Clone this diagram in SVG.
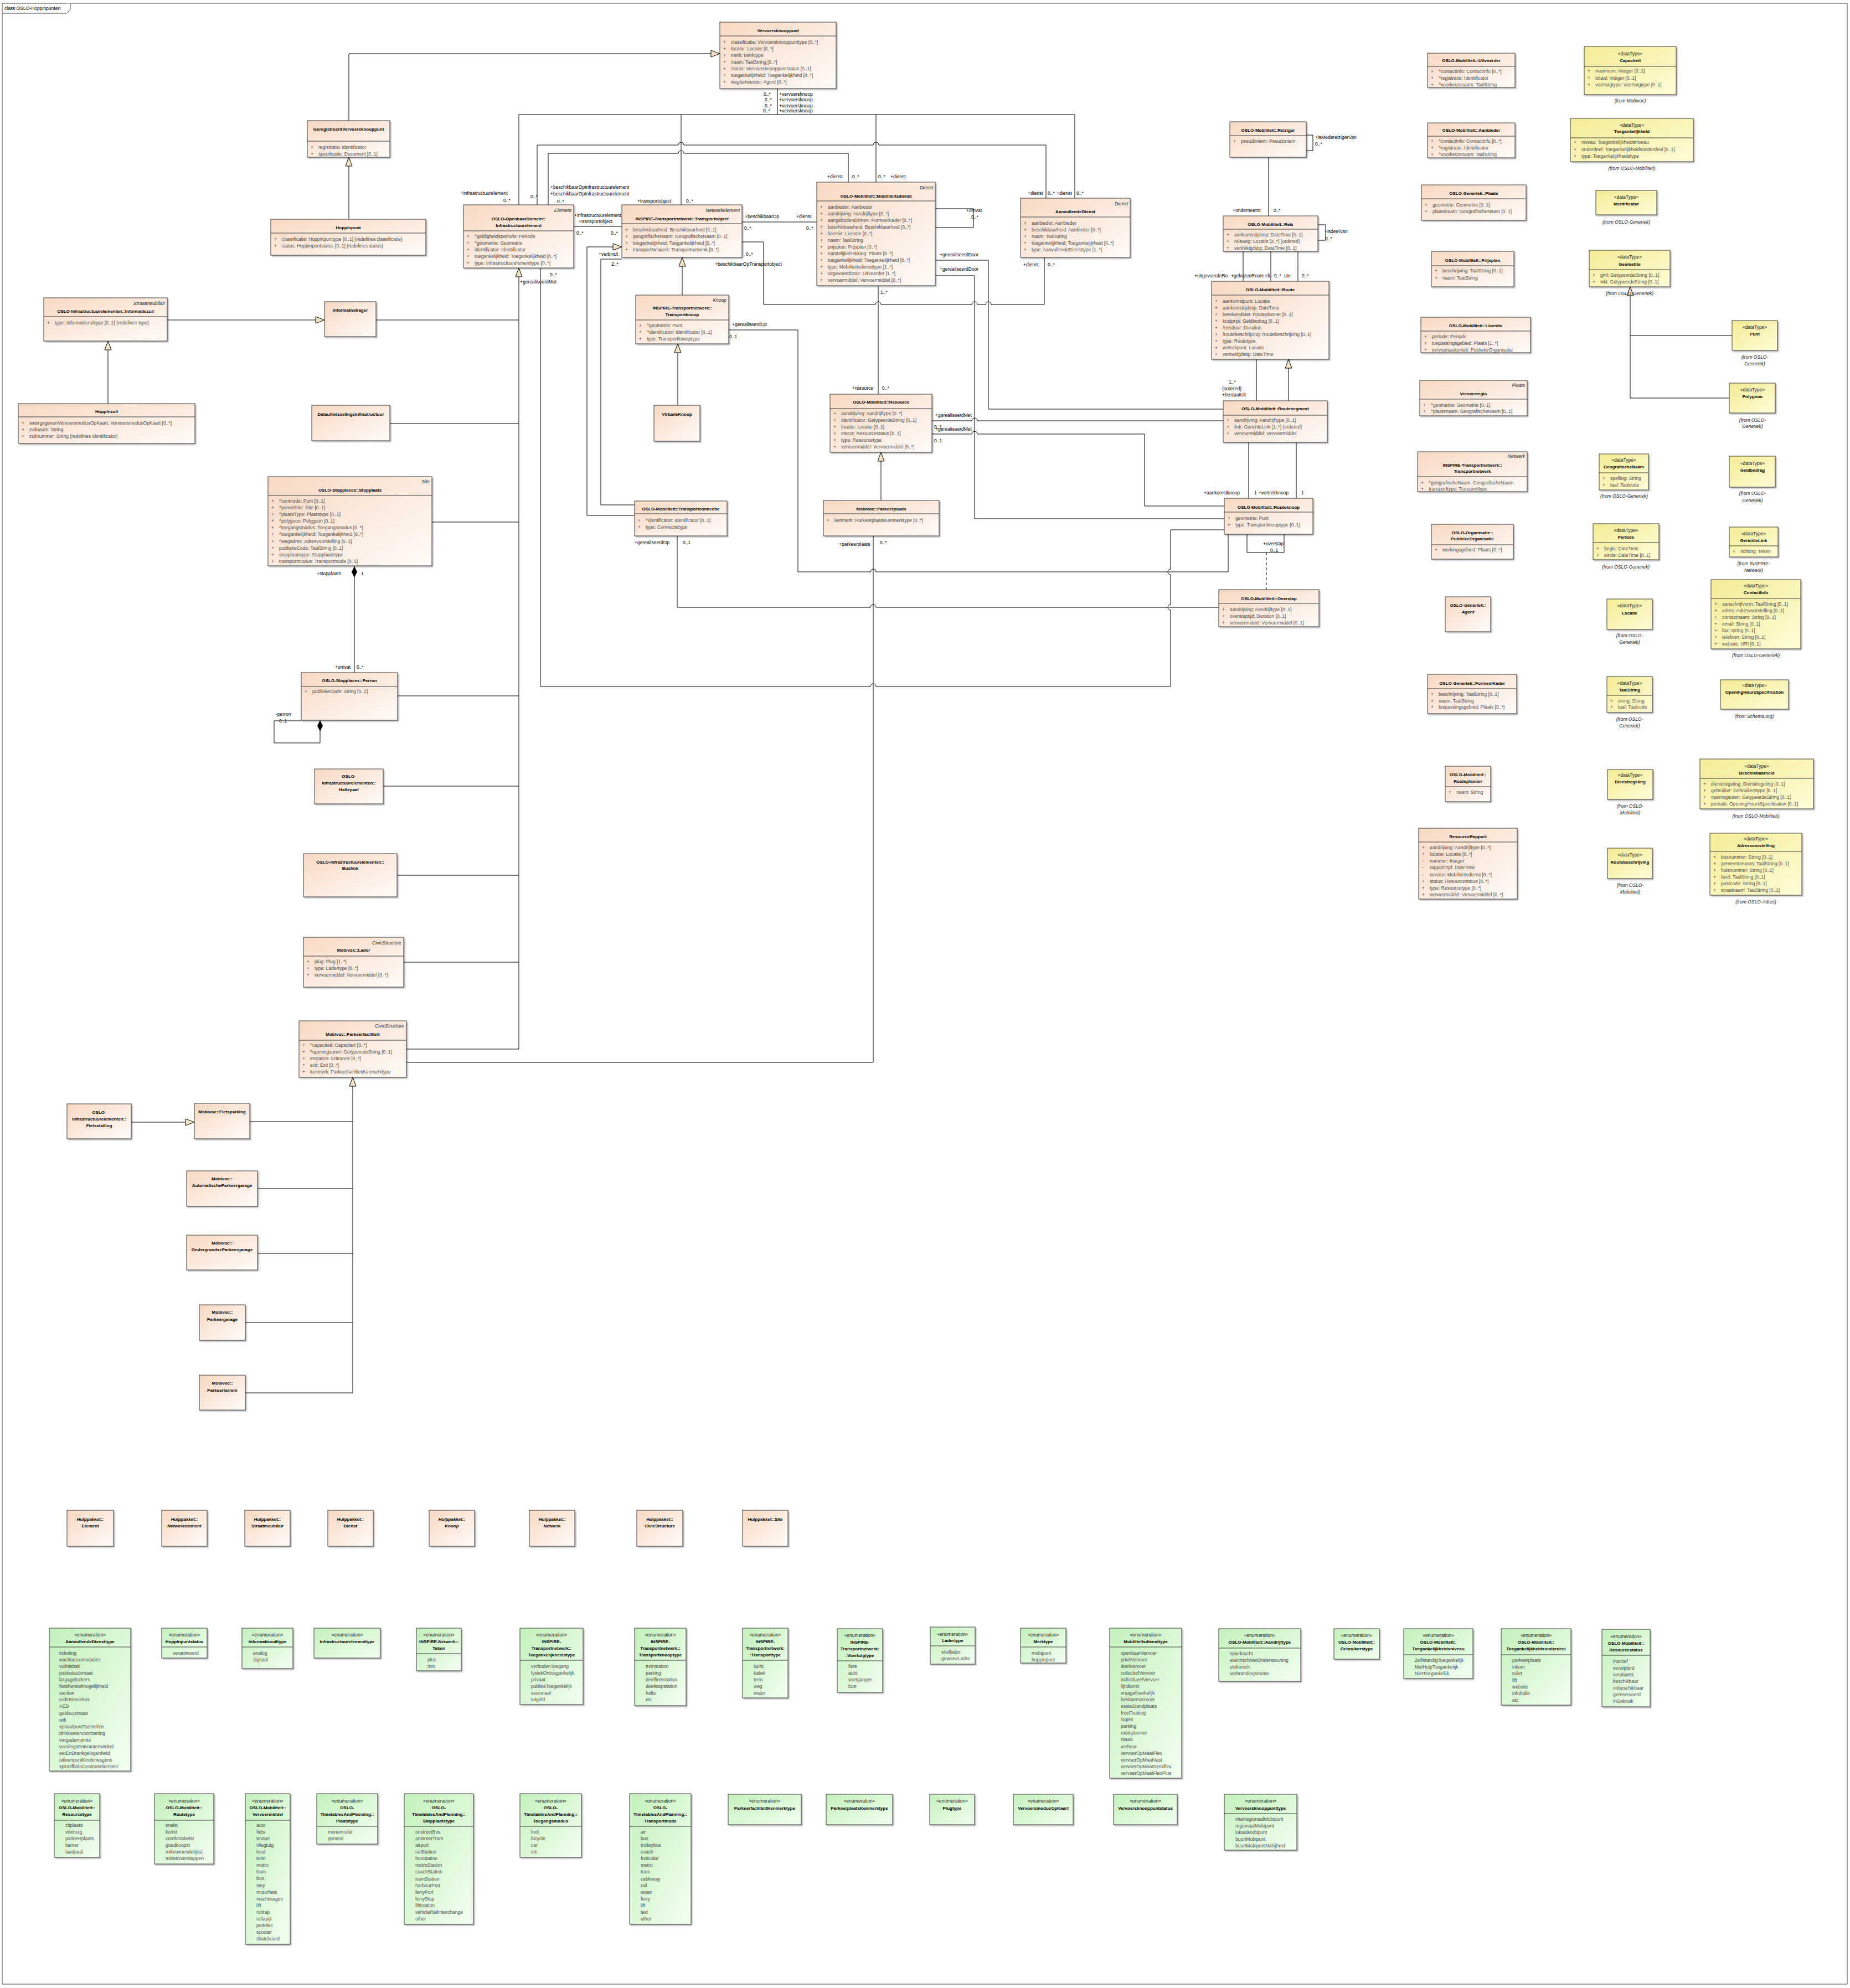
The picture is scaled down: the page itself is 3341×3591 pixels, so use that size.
<svg xmlns="http://www.w3.org/2000/svg" width="3341" height="3591" viewBox="0 0 3341 3591">
<defs>
<linearGradient id="gc" x1="0" y1="0" x2="1" y2="1"><stop offset="0" stop-color="#f7d9c3"/><stop offset="1" stop-color="#fffbf8"/></linearGradient>
<linearGradient id="gd" x1="0" y1="0" x2="1" y2="1"><stop offset="0" stop-color="#f3ec94"/><stop offset="1" stop-color="#fffcd8"/></linearGradient>
<linearGradient id="ge" x1="0" y1="0" x2="1" y2="1"><stop offset="0" stop-color="#c4f0bc"/><stop offset="1" stop-color="#f3fff1"/></linearGradient>
<filter id="sh" x="-5%" y="-5%" width="115%" height="120%"><feDropShadow dx="2" dy="2" stdDeviation="1" flood-color="#000" flood-opacity="0.3"/></filter>
<marker id="tri" markerUnits="userSpaceOnUse" markerWidth="18" markerHeight="14" refX="16" refY="6" orient="auto" overflow="visible"><path d="M0,0 L16,6 L0,12 Z" fill="#f3e2c4" stroke="#000" stroke-width="1"/></marker>
<marker id="dia" markerUnits="userSpaceOnUse" markerWidth="20" markerHeight="10" refX="0" refY="5" orient="auto" overflow="visible"><path d="M0,5 L10,0 L20,5 L10,10 Z" fill="#000"/></marker>
</defs>
<style>
text{font-family:"Liberation Sans",Arial,sans-serif;font-size:8.5px}
.c{fill:url(#gc);stroke:#3c3c3c;stroke-width:1;filter:url(#sh)}
.d{fill:url(#gd);stroke:#3c3c3c;stroke-width:1;filter:url(#sh)}
.e{fill:url(#ge);stroke:#3c3c3c;stroke-width:1;filter:url(#sh)}
.sp{stroke:#3c3c3c;stroke-width:1;fill:none}
.n{font-size:8px;font-weight:bold;text-anchor:middle;fill:#000}
.ni{font-size:8px;font-weight:bold;font-style:italic;text-anchor:middle;fill:#000}
.st{font-style:italic;text-anchor:end;fill:#222}
.sm{text-anchor:middle;fill:#222}
.a{fill:#4d4d4d}
.fr{font-style:italic;text-anchor:middle;fill:#222}
.l{fill:#000}
.ln{stroke:#000;stroke-width:1;fill:none}
.dash{stroke:#000;stroke-width:1;fill:none;stroke-dasharray:5,4}
.g{marker-end:url(#tri)}
.cp{marker-start:url(#dia)}
</style>
<rect x="0" y="0" width="3341" height="3591" fill="#fff"/>
<g id="frame">
<rect x="4" y="6" width="3332" height="3578" fill="none" stroke="#444"/>
<path d="M4,24 H120 L127,17 V6" fill="#fff" stroke="#444"/>
<text class="l" x="8" y="18">class OSLO-Hoppinpunten</text>
</g>
<g id="connectors">
<path class="ln g" d="M630,218 V97 H1300"/>
<path class="ln g" d="M630,396 V284"/>
<path class="ln" d="M1404,160 V207"/>
<path class="ln" d="M937,370 V207 H1941 V358"/>
<path class="ln" d="M1230,207 V370"/>
<path class="ln" d="M1582,207 V329"/>
<path class="ln" d="M970,370 V262 H1225 a5,5 0 0 1 10,0 H1577 a5,5 0 0 1 10,0 H1889 V358"/>
<path class="ln" d="M990,370 V277 H1225 a5,5 0 0 1 10,0 H1532 V329"/>
<path class="ln" d="M1036,409 H1123"/>
<path class="ln" d="M1340,401 H1475"/>
<path class="ln" d="M1340,437 H1379 V550 H1581 a5,5 0 0 1 10,0 H1755 a5,5 0 0 1 10,0 H1780 a5,5 0 0 1 10,0 H1886 V465"/>
<path class="ln" d="M1689,377 H1758 V411 H1689"/>
<path class="ln" d="M1586,516 V712"/>
<path class="ln" d="M1689,470 H1785 V739 H2209"/>
<path class="ln" d="M1689,498 H1760 V937 H2211"/>
<path class="ln" d="M1683,760 H1755 a5,5 0 0 1 10,0 H2209"/>
<path class="ln" d="M1683,784 H1755 a5,5 0 0 1 10,0 H2067 V914 H2211"/>
<path class="ln g" d="M1591,904 V817"/>
<path class="ln" d="M1577,968 V1919 H734"/>
<path class="ln g" d="M1232,533 V465"/>
<path class="ln g" d="M1224,732 V621"/>
<path class="ln" d="M1316,596 H1441 V1033 H1572 a5,5 0 0 1 10,0 H2218 V965"/>
<path class="ln g" d="M1146,931 H1060 V446 H1123"/>
<path class="ln" d="M1146,912 H1085 V468 H1123"/>
<path class="ln" d="M1223,968 V1097 H1572 a5,5 0 0 1 10,0 H2201"/>
<path class="ln" d="M976,484 V1240 H1572 a5,5 0 0 1 10,0 H2114 V1102 a5,5 0 0 1 0,-10 V1038 a5,5 0 0 1 0,-10 V957 H2211"/>
<path class="ln g" d="M937,1895 V484"/>
<path class="ln" d="M679,578 H937 M704,765 H937 M780,943 H937 M718,1257 H937 M692,1420 H937 M717,1581 H937 M729,1738 H937 M734,1895 H937"/>
<path class="ln g" d="M302,578 H586"/>
<path class="ln g" d="M195,729 V616"/>
<path class="ln cp" d="M640,1023 V1215"/>
<path class="ln cp" d="M578,1301 V1342 H495 V1302 H544"/>
<path class="ln g" d="M637,2516 V1946"/>
<path class="ln" d="M451,2026 H637 M465,2147 H637 M465,2264 H637 M443,2389 H637 M443,2516 H637"/>
<path class="ln g" d="M237,2027 H351"/>
<path class="ln" d="M3128,606 H2944"/>
<path class="ln g" d="M3123,719 H2944 V518"/>
<path class="ln" d="M2359,244 H2371 V272 H2359"/>
<path class="ln" d="M2291,284 V390"/>
<path class="ln" d="M2380,406 H2394 V434 H2380"/>
<path class="ln" d="M2245,453 V508 M2295,453 V508 M2344,453 V508"/>
<path class="ln g" d="M2327,724 V649"/>
<path class="ln" d="M2269,649 V724"/>
<path class="ln" d="M2255,799 V900 M2341,799 V900"/>
<path class="ln" d="M2252,965 V998 H2319 V965"/>
<path class="dash" d="M2287,998 V1065"/>
<g id="labels">
<text class="l" x="1379" y="173">0..*</text><text class="l" x="1407" y="173">+vervoersknoop</text>
<text class="l" x="1381" y="183">0..*</text><text class="l" x="1407" y="183">+vervoersknoop</text>
<text class="l" x="1381" y="194">0..*</text><text class="l" x="1407" y="194">+vervoersknoop</text>
<text class="l" x="1378" y="203">0..*</text><text class="l" x="1407" y="203">+vervoersknoop</text>
<text class="l" x="832" y="352">+infrastructuurelement</text>
<text class="l" x="909" y="365">0..*</text>
<text class="l" x="958" y="358">0..*</text>
<text class="l" x="994" y="341">+beschikbaarOpInfrastructuurelement</text>
<text class="l" x="994" y="353">+beschikbaarOpInfrastructuurelement</text>
<text class="l" x="1006" y="367">0..*</text>
<text class="l" x="1037" y="392">+infrastructuurelement</text>
<text class="l" x="1045" y="403">+transportobject</text>
<text class="l" x="1041" y="424">0..*</text>
<text class="l" x="1103" y="424">0..*</text>
<text class="l" x="1151" y="366">+transportobject</text>
<text class="l" x="1239" y="366">0..*</text>
<text class="l" x="1345" y="394">+beschikbaarOp</text>
<text class="l" x="1344" y="415">0..*</text>
<text class="l" x="1438" y="394">+dienst</text>
<text class="l" x="1456" y="415">0..*</text>
<text class="l" x="1081" y="462">+verbindt</text>
<text class="l" x="1104" y="480">2..*</text>
<text class="l" x="1347" y="462">0..*</text>
<text class="l" x="1291" y="480">+beschikbaarOpTransportobject</text>
<text class="l" x="993" y="499">0..*</text>
<text class="l" x="939" y="512">+gerealiseerdMet</text>
<text class="l" x="1494" y="322">+dienst</text>
<text class="l" x="1539" y="322">0..*</text>
<text class="l" x="1586" y="322">0..*</text>
<text class="l" x="1608" y="322">+dienst</text>
<text class="l" x="1856" y="352">+dienst</text>
<text class="l" x="1892" y="352">0..*</text>
<text class="l" x="1908" y="352">+dienst</text>
<text class="l" x="1944" y="352">0..*</text>
<text class="l" x="1745" y="383">+omvat</text>
<text class="l" x="1754" y="395">0..*</text>
<text class="l" x="1697" y="463">+gerealiseerdDoor</text>
<text class="l" x="1697" y="489">+gerealiseerdDoor</text>
<text class="l" x="1590" y="531">1..*</text>
<text class="l" x="1848" y="481">+dienst</text>
<text class="l" x="1892" y="481">0..*</text>
<text class="l" x="1539" y="704">+resource</text>
<text class="l" x="1593" y="704">0..*</text>
<text class="l" x="1689" y="753">+gerealiseerdMet</text>
<text class="l" x="1687" y="774">0..1</text>
<text class="l" x="1689" y="778">+gerealiseerdMet</text>
<text class="l" x="1687" y="799">0..1</text>
<text class="l" x="1322" y="589">+gerealiseerdOp</text>
<text class="l" x="1317" y="611">0..1</text>
<text class="l" x="1146" y="983">+gerealiseerdOp</text>
<text class="l" x="1233" y="983">0..1</text>
<text class="l" x="1515" y="986">+parkeerplaats</text>
<text class="l" x="1589" y="983">0..*</text>
<text class="l" x="2375" y="251">+isMedereizigerVan</text>
<text class="l" x="2375" y="263">0..*</text>
<text class="l" x="2226" y="383">+onderneemt</text>
<text class="l" x="2300" y="383">0..*</text>
<text class="l" x="2392" y="421">+isdeelVan</text>
<text class="l" x="2393" y="434">0..*</text>
<text class="l" x="2157" y="501">+uitgevoerdeRo</text>
<text class="l" x="2223" y="501">+gekozenRoute</text>
<text class="l" x="2285" y="501">eli</text>
<text class="l" x="2301" y="501">0..*</text>
<text class="l" x="2319" y="501">ute</text>
<text class="l" x="2351" y="501">0..*</text>
<text class="l" x="2219" y="693">1..*</text>
<text class="l" x="2207" y="705">{ordered}</text>
<text class="l" x="2207" y="716">+bestaatUit</text>
<text class="l" x="2174" y="893">+aankomstknoop</text>
<text class="l" x="2265" y="893">1</text>
<text class="l" x="2273" y="893">+vertrekknoop</text>
<text class="l" x="2350" y="893">1</text>
<text class="l" x="2281" y="985">+overstap</text>
<text class="l" x="2294" y="997">0..1</text>
<text class="l" x="572" y="1039">+stopplaats</text>
<text class="l" x="652" y="1039">1</text>
<text class="l" x="605" y="1208">+omvat</text>
<text class="l" x="644" y="1208">0..*</text>
<text class="l" x="498" y="1293">-perron</text>
<text class="l" x="504" y="1305">0..1</text>
</g>
</g>
<g id="Vervoersknooppunt"><rect class="c" x="1300" y="40" width="210" height="120"/><text class="n" x="1405" y="58">Vervoersknooppunt</text><path class="sp" d="M1300,65 H1510"/>
<text class="a" y="79"><tspan x="1306">+</tspan><tspan x="1320">classificatie: Vervoersknooppunttype [0..*]</tspan></text>
<text class="a" y="91"><tspan x="1306">+</tspan><tspan x="1320">locatie: Locatie [0..*]</tspan></text>
<text class="a" y="103"><tspan x="1306">+</tspan><tspan x="1320">merk: Merktype</tspan></text>
<text class="a" y="115"><tspan x="1306">+</tspan><tspan x="1320">naam: TaalString [0..*]</tspan></text>
<text class="a" y="127"><tspan x="1306">+</tspan><tspan x="1320">status: Vervoersknooppuntstatus [0..1]</tspan></text>
<text class="a" y="139"><tspan x="1306">+</tspan><tspan x="1320">toegankelijkheid: Toegankelijkheid [0..*]</tspan></text>
<text class="a" y="151"><tspan x="1306">+</tspan><tspan x="1320">wegbeheerder: Agent [0..*]</tspan></text></g>
<g id="GeregistreerdVervoersknooppunt"><rect class="c" x="555" y="218" width="149" height="66"/><text class="n" x="629.5" y="236">GeregistreerdVervoersknooppunt</text><path class="sp" d="M555,255 H704"/>
<text class="a" y="269"><tspan x="561">+</tspan><tspan x="575">registratie: Identificator</tspan></text>
<text class="a" y="281"><tspan x="561">+</tspan><tspan x="575">specificatie: Document [0..1]</tspan></text></g>
<g id="Hoppinpunt"><rect class="c" x="489" y="396" width="280" height="65"/><text class="n" x="629" y="414">Hoppinpunt</text><path class="sp" d="M489,421 H769"/>
<text class="a" y="435"><tspan x="495">+</tspan><tspan x="509">classificatie: Hoppinpunttype [0..1] {redefines classificatie}</tspan></text>
<text class="a" y="447"><tspan x="495">+</tspan><tspan x="509">status: Hoppinpuntstatus [0..1] {redefines status}</tspan></text></g>
<g id="Infrastructuurelement"><rect class="c" x="837" y="370" width="199" height="114"/><text class="st" x="1032" y="383">Element</text><text class="n" x="936.5" y="398">OSLO-OpenbaarDomein::</text><text class="n" x="936.5" y="410">Infrastructuurelement</text><path class="sp" d="M837,417 H1036"/>
<text class="a" y="430"><tspan x="843">+</tspan><tspan x="857">^geldigheidsperiode: Periode</tspan></text>
<text class="a" y="442"><tspan x="843">+</tspan><tspan x="857">^geometrie: Geometrie</tspan></text>
<text class="a" y="454"><tspan x="843">+</tspan><tspan x="857">identificator: Identificator</tspan></text>
<text class="a" y="466"><tspan x="843">+</tspan><tspan x="857">toegankelijkheid: Toegankelijkheid [0..*]</tspan></text>
<text class="a" y="478"><tspan x="843">+</tspan><tspan x="857">type: Infrastructuurelementtype [0..*]</tspan></text></g>
<g id="Transportobject"><rect class="c" x="1123" y="370" width="217" height="95"/><text class="st" x="1336" y="383">Netwerkelement</text><text class="ni" x="1231.5" y="398">INSPIRE-Transportnetwerk::Transportobject</text><path class="sp" d="M1123,404 H1340"/>
<text class="a" y="418"><tspan x="1129">+</tspan><tspan x="1143">beschikbaarheid: Beschikbaarheid [0..1]</tspan></text>
<text class="a" y="430"><tspan x="1129">+</tspan><tspan x="1143">geografischeNaam: GeografischeNaam [0..1]</tspan></text>
<text class="a" y="442"><tspan x="1129">+</tspan><tspan x="1143">toegankelijkheid: Toegankelijkheid [0..*]</tspan></text>
<text class="a" y="454"><tspan x="1129">+</tspan><tspan x="1143">transportNetwerk: Transportnetwerk [0..*]</tspan></text></g>
<g id="Mobiliteitsdienst"><rect class="c" x="1475" y="329" width="214" height="187"/><text class="st" x="1685" y="342">Dienst</text><text class="n" x="1582" y="357">OSLO-Mobiliteit::Mobiliteitsdienst</text><path class="sp" d="M1475,363 H1689"/>
<text class="a" y="377"><tspan x="1481">+</tspan><tspan x="1495">aanbieder: Aanbieder</tspan></text>
<text class="a" y="389"><tspan x="1481">+</tspan><tspan x="1495">aandrijving: Aandrijftype [0..*]</tspan></text>
<text class="a" y="401"><tspan x="1481">+</tspan><tspan x="1495">aangebodenBinnen: FormeelKader [0..*]</tspan></text>
<text class="a" y="413"><tspan x="1481">+</tspan><tspan x="1495">beschikbaarheid: Beschikbaarheid [0..*]</tspan></text>
<text class="a" y="425"><tspan x="1481">+</tspan><tspan x="1495">licentie: Licentie [0..*]</tspan></text>
<text class="a" y="437"><tspan x="1481">+</tspan><tspan x="1495">naam: TaalString</tspan></text>
<text class="a" y="449"><tspan x="1481">+</tspan><tspan x="1495">prijsplan: Prijsplan [0..*]</tspan></text>
<text class="a" y="461"><tspan x="1481">+</tspan><tspan x="1495">ruimtelijkeDekking: Plaats [0..*]</tspan></text>
<text class="a" y="473"><tspan x="1481">+</tspan><tspan x="1495">toegankelijkheid: Toegankelijkheid [0..*]</tspan></text>
<text class="a" y="485"><tspan x="1481">+</tspan><tspan x="1495">type: Mobiliteitsdiensttype [1..*]</tspan></text>
<text class="a" y="497"><tspan x="1481">+</tspan><tspan x="1495">uitgevoerdDoor: Uitvoerder [1..*]</tspan></text>
<text class="a" y="509"><tspan x="1481">+</tspan><tspan x="1495">vervoermiddel: Vervoermiddel [0..*]</tspan></text></g>
<g id="AanvullendeDienst"><rect class="c" x="1843" y="358" width="198" height="107"/><text class="st" x="2037" y="371">Dienst</text><text class="n" x="1942" y="385">AanvullendeDienst</text><path class="sp" d="M1843,392 H2041"/>
<text class="a" y="406"><tspan x="1849">+</tspan><tspan x="1863">aanbieder: Aanbieder</tspan></text>
<text class="a" y="418"><tspan x="1849">+</tspan><tspan x="1863">beschikbaarheid: Aanbieder [0..*]</tspan></text>
<text class="a" y="430"><tspan x="1849">+</tspan><tspan x="1863">naam: TaalString</tspan></text>
<text class="a" y="442"><tspan x="1849">+</tspan><tspan x="1863">toegankelijkheid: Toegankelijkheid [0..*]</tspan></text>
<text class="a" y="454"><tspan x="1849">+</tspan><tspan x="1863">type: AanvullendeDiensttype [1..*]</tspan></text></g>
<g id="Reiziger"><rect class="c" x="2221" y="220" width="138" height="64"/><text class="n" x="2290" y="238">OSLO-Mobiliteit::Reiziger</text><path class="sp" d="M2221,245 H2359"/>
<text class="a" y="258"><tspan x="2227">+</tspan><tspan x="2241">pseudoniem: Pseudoniem</tspan></text></g>
<g id="Reis"><rect class="c" x="2209" y="390" width="171" height="64"/><text class="n" x="2294.5" y="408">OSLO-Mobiliteit::Reis</text><path class="sp" d="M2209,414 H2380"/>
<text class="a" y="427"><tspan x="2215">+</tspan><tspan x="2229">aankomsttijdstip: DateTime [0..1]</tspan></text>
<text class="a" y="439"><tspan x="2215">+</tspan><tspan x="2229">reisweg: Locatie [2..*] {ordered}</tspan></text>
<text class="a" y="451"><tspan x="2215">+</tspan><tspan x="2229">vertrektijdstip: DateTime [0..1]</tspan></text></g>
<g id="Route"><rect class="c" x="2188" y="508" width="212" height="141"/><text class="n" x="2294" y="526">OSLO-Mobiliteit::Route</text><path class="sp" d="M2188,533 H2400"/>
<text class="a" y="547"><tspan x="2194">+</tspan><tspan x="2208">aankomstpunt: Locatie</tspan></text>
<text class="a" y="559"><tspan x="2194">+</tspan><tspan x="2208">aankomsttijdstip: DateTime</tspan></text>
<text class="a" y="571"><tspan x="2194">+</tspan><tspan x="2208">berekendMet: Routeplanner [0..1]</tspan></text>
<text class="a" y="583"><tspan x="2194">+</tspan><tspan x="2208">kostprijs: Geldbedrag [0..1]</tspan></text>
<text class="a" y="595"><tspan x="2194">+</tspan><tspan x="2208">/reisduur: Duration</tspan></text>
<text class="a" y="607"><tspan x="2194">+</tspan><tspan x="2208">/routebeschrijving: Routebeschrijving [0..1]</tspan></text>
<text class="a" y="619"><tspan x="2194">+</tspan><tspan x="2208">type: Routetype</tspan></text>
<text class="a" y="631"><tspan x="2194">+</tspan><tspan x="2208">vertrekpunt: Locatie</tspan></text>
<text class="a" y="643"><tspan x="2194">+</tspan><tspan x="2208">vertrektijdstip: DateTime</tspan></text></g>
<g id="Routesegment"><rect class="c" x="2209" y="724" width="188" height="75"/><text class="n" x="2303" y="741">OSLO-Mobiliteit::Routesegment</text><path class="sp" d="M2209,750 H2397"/>
<text class="a" y="762"><tspan x="2215">+</tspan><tspan x="2229">aandrijving: Aandrijftype [0..1]</tspan></text>
<text class="a" y="774"><tspan x="2215">+</tspan><tspan x="2229">link: GerichteLink [1..*] {ordered}</tspan></text>
<text class="a" y="786"><tspan x="2215">+</tspan><tspan x="2229">vervoermiddel: Vervoermiddel</tspan></text></g>
<g id="Routeknoop"><rect class="c" x="2211" y="900" width="160" height="65"/><text class="n" x="2291" y="919">OSLO-Mobiliteit::Routeknoop</text><path class="sp" d="M2211,925 H2371"/>
<text class="a" y="939"><tspan x="2217">+</tspan><tspan x="2231">geometrie: Punt</tspan></text>
<text class="a" y="951"><tspan x="2217">+</tspan><tspan x="2231">type: Transportknooptype [0..1]</tspan></text></g>
<g id="Overstap"><rect class="c" x="2201" y="1065" width="181" height="67"/><text class="n" x="2291.5" y="1084">OSLO-Mobiliteit::Overstap</text><path class="sp" d="M2201,1090 H2382"/>
<text class="a" y="1104"><tspan x="2207">+</tspan><tspan x="2221">aandrijving: Aandrijftype [0..1]</tspan></text>
<text class="a" y="1116"><tspan x="2207">+</tspan><tspan x="2221">overstaptijd: Duration [0..1]</tspan></text>
<text class="a" y="1128"><tspan x="2207">+</tspan><tspan x="2221">vervoermiddel: Vervoermiddel [0..1]</tspan></text></g>
<g id="Resource"><rect class="c" x="1499" y="712" width="184" height="105"/><text class="n" x="1591" y="729">OSLO-Mobiliteit::Resource</text><path class="sp" d="M1499,738 H1683"/>
<text class="a" y="750"><tspan x="1505">+</tspan><tspan x="1519">aandrijving: Aandrijftype [0..*]</tspan></text>
<text class="a" y="762"><tspan x="1505">+</tspan><tspan x="1519">identificator: GetypeerdeString [0..1]</tspan></text>
<text class="a" y="774"><tspan x="1505">+</tspan><tspan x="1519">locatie: Locatie [0..1]</tspan></text>
<text class="a" y="786"><tspan x="1505">+</tspan><tspan x="1519">status: Resourcestatus [0..1]</tspan></text>
<text class="a" y="798"><tspan x="1505">+</tspan><tspan x="1519">type: Resourcetype</tspan></text>
<text class="a" y="810"><tspan x="1505">+</tspan><tspan x="1519">vervoermiddel: Vervoermiddel [0..*]</tspan></text></g>
<g id="Parkeerplaats"><rect class="c" x="1487" y="904" width="209" height="64"/><text class="n" x="1591.5" y="922">Mobivoc::Parkeerplaats</text><path class="sp" d="M1487,928 H1696"/>
<text class="a" y="943"><tspan x="1493">+</tspan><tspan x="1507">kenmerk: ParkeerplaatsKenmerktype [0..*]</tspan></text></g>
<g id="Transportknoop"><rect class="c" x="1148" y="533" width="168" height="88"/><text class="st" x="1312" y="545">Knoop</text><text class="n" x="1232" y="559">INSPIRE-Transportnetwerk::</text><text class="n" x="1232" y="571">Transportknoop</text><path class="sp" d="M1148,578 H1316"/>
<text class="a" y="591"><tspan x="1154">+</tspan><tspan x="1168">^geometrie: Punt</tspan></text>
<text class="a" y="603"><tspan x="1154">+</tspan><tspan x="1168">^identificator: Identificator [0..1]</tspan></text>
<text class="a" y="615"><tspan x="1154">+</tspan><tspan x="1168">type: Transportknooptype</tspan></text></g>
<g id="VirtueleKnoop"><rect class="c" x="1181" y="732" width="83" height="65"/><text class="n" x="1222.5" y="751">VirtueleKnoop</text></g>
<g id="Transportconnectie"><rect class="c" x="1146" y="905" width="167" height="63"/><text class="n" x="1229.5" y="922">OSLO-Mobiliteit::Transportconnectie</text><path class="sp" d="M1146,928 H1313"/>
<text class="a" y="943"><tspan x="1152">+</tspan><tspan x="1166">^identificator: Identificator [0..1]</tspan></text>
<text class="a" y="955"><tspan x="1152">+</tspan><tspan x="1166">type: Connectietype</tspan></text></g>
<g id="Informatiezuil"><rect class="c" x="79" y="538" width="223" height="78"/><text class="st" x="298" y="551">Straatmeubilair</text><text class="n" x="190.5" y="565">OSLO-Infrastructuurelementen::Informatiezuil</text><path class="sp" d="M79,572 H302"/>
<text class="a" y="586"><tspan x="85">+</tspan><tspan x="99">type: Informatiezuiltype [0..1] {redefines type}</tspan></text></g>
<g id="Informatiedrager"><rect class="c" x="586" y="545" width="93" height="63"/><text class="n" x="632.5" y="563">Informatiedrager</text></g>
<g id="Hoppinzuil"><rect class="c" x="33" y="729" width="319" height="72"/><text class="n" x="192.5" y="746">Hoppinzuil</text><path class="sp" d="M33,753 H352"/>
<text class="a" y="767"><tspan x="39">+</tspan><tspan x="53">weergegevenVervoersmodusOpKaart: VervoersmodusOpKaart [0..*]</tspan></text>
<text class="a" y="779"><tspan x="39">+</tspan><tspan x="53">zuilnaam: String</tspan></text>
<text class="a" y="791"><tspan x="39">+</tspan><tspan x="53">zuilnummer: String {redefines identificator}</tspan></text></g>
<g id="Datauitwisselingsinfrastructuur"><rect class="c" x="563" y="732" width="141" height="64"/><text class="n" x="633.5" y="751">Datauitwisselingsinfrastructuur</text></g>
<g id="Stopplaats"><rect class="c" x="484" y="861" width="296" height="161"/><text class="st" x="776" y="873">Site</text><text class="n" x="632" y="888">OSLO-Stopplaces::Stopplaats</text><path class="sp" d="M484,895 H780"/>
<text class="a" y="908"><tspan x="490">+</tspan><tspan x="504">^centroide: Punt [0..1]</tspan></text>
<text class="a" y="920"><tspan x="490">+</tspan><tspan x="504">^parentSite: Site [0..1]</tspan></text>
<text class="a" y="932"><tspan x="490">+</tspan><tspan x="504">^plaatsType: Plaatstype [0..1]</tspan></text>
<text class="a" y="944"><tspan x="490">+</tspan><tspan x="504">^polygoon: Polygoon [0..1]</tspan></text>
<text class="a" y="956"><tspan x="490">+</tspan><tspan x="504">^toegangsmodus: Toegangsmodus [0..*]</tspan></text>
<text class="a" y="968"><tspan x="490">+</tspan><tspan x="504">^toegankelijkheid: Toegankelijkheid [0..*]</tspan></text>
<text class="a" y="981"><tspan x="490">+</tspan><tspan x="504">^wegadres: Adresvoorstelling [0..1]</tspan></text>
<text class="a" y="993"><tspan x="490">+</tspan><tspan x="504">publiekeCode: TaalString [0..1]</tspan></text>
<text class="a" y="1005"><tspan x="490">+</tspan><tspan x="504">stopplaatstype: Stopplaatstype</tspan></text>
<text class="a" y="1017"><tspan x="490">+</tspan><tspan x="504">transportmodus: Transportmode [0..1]</tspan></text></g>
<g id="Perron"><rect class="c" x="544" y="1215" width="174" height="86"/><text class="n" x="631" y="1232">OSLO-Stopplaces::Perron</text><path class="sp" d="M544,1240 H718"/>
<text class="a" y="1252"><tspan x="550">+</tspan><tspan x="564">publiekeCode: String [0..1]</tspan></text></g>
<g id="Haltepaal"><rect class="c" x="568" y="1389" width="124" height="63"/><text class="n" x="630" y="1405">OSLO-</text><text class="n" x="630" y="1417">Infrastructuurelementen::</text><text class="n" x="630" y="1429">Haltepaal</text></g>
<g id="Bushok"><rect class="c" x="548" y="1542" width="169" height="78"/><text class="n" x="632.5" y="1560">OSLO-Infrastructuurelementen::</text><text class="n" x="632.5" y="1571">Bushok</text></g>
<g id="Lader"><rect class="c" x="548" y="1693" width="181" height="90"/><text class="st" x="725" y="1706">CivicStructure</text><text class="n" x="638.5" y="1719">Mobivoc::Lader</text><path class="sp" d="M548,1727 H729"/>
<text class="a" y="1740"><tspan x="554">+</tspan><tspan x="568">plug: Plug [1..*]</tspan></text>
<text class="a" y="1752"><tspan x="554">+</tspan><tspan x="568">type: Ladertype [0..*]</tspan></text>
<text class="a" y="1764"><tspan x="554">+</tspan><tspan x="568">vervoermiddel: Vervoermiddel [0..*]</tspan></text></g>
<g id="Parkeerfaciliteit"><rect class="c" x="540" y="1844" width="194" height="102"/><text class="st" x="730" y="1856">CivicStructure</text><text class="n" x="637" y="1871">Mobivoc::Parkeerfaciliteit</text><path class="sp" d="M540,1879 H734"/>
<text class="a" y="1891"><tspan x="546">+</tspan><tspan x="560">^capaciteit: Capaciteit [0..*]</tspan></text>
<text class="a" y="1903"><tspan x="546">+</tspan><tspan x="560">^openingsuren: GetypeerdeString [0..1]</tspan></text>
<text class="a" y="1915"><tspan x="546">+</tspan><tspan x="560">entrance: Entrance [0..*]</tspan></text>
<text class="a" y="1927"><tspan x="546">+</tspan><tspan x="560">exit: Exit [0..*]</tspan></text>
<text class="a" y="1939"><tspan x="546">+</tspan><tspan x="560">kenmerk: ParkeerfaciliteitKenmerktype</tspan></text></g>
<g id="Fietsstalling"><rect class="c" x="121" y="1994" width="116" height="63"/><text class="n" x="179" y="2012">OSLO-</text><text class="n" x="179" y="2024">Infrastructuurelementen::</text><text class="n" x="179" y="2036">Fietsstalling</text></g>
<g id="Fietsparking"><rect class="c" x="351" y="1993" width="100" height="64"/><text class="n" x="401" y="2011">Mobivoc::Fietsparking</text></g>
<g id="AutomatischeParkeergarage"><rect class="c" x="337" y="2115" width="128" height="64"/><text class="n" x="401" y="2132">Mobivoc::</text><text class="n" x="401" y="2144">AutomatischeParkeergarage</text></g>
<g id="OndergrondseParkeergarage"><rect class="c" x="337" y="2231" width="128" height="63"/><text class="n" x="401" y="2248">Mobivoc::</text><text class="n" x="401" y="2260">OndergrondseParkeergarage</text></g>
<g id="Parkeergarage"><rect class="c" x="360" y="2357" width="83" height="64"/><text class="n" x="401.5" y="2373">Mobivoc::</text><text class="n" x="401.5" y="2386">Parkeergarage</text></g>
<g id="Parkeerterrein"><rect class="c" x="360" y="2484" width="83" height="63"/><text class="n" x="401.5" y="2501">Mobivoc::</text><text class="n" x="401.5" y="2514">Parkeerterrein</text></g>
<g id="Uitvoerder"><rect class="c" x="2578" y="96" width="158" height="62"/><text class="n" x="2657" y="112">OSLO-Mobiliteit::Uitvoerder</text><path class="sp" d="M2578,120 H2736"/>
<text class="a" y="132"><tspan x="2584">+</tspan><tspan x="2598">^contactInfo: ContactInfo [0..*]</tspan></text>
<text class="a" y="144"><tspan x="2584">+</tspan><tspan x="2598">^registratie: Identificator</tspan></text>
<text class="a" y="156"><tspan x="2584">+</tspan><tspan x="2598">^voorkeursnaam: TaalString</tspan></text></g>
<g id="Aanbieder"><rect class="c" x="2578" y="222" width="158" height="63"/><text class="n" x="2657" y="238">OSLO-Mobiliteit::Aanbieder</text><path class="sp" d="M2578,246 H2736"/>
<text class="a" y="258"><tspan x="2584">+</tspan><tspan x="2598">^contactInfo: ContactInfo [0..*]</tspan></text>
<text class="a" y="270"><tspan x="2584">+</tspan><tspan x="2598">^registratie: Identificator</tspan></text>
<text class="a" y="282"><tspan x="2584">+</tspan><tspan x="2598">^voorkeursnaam: TaalString</tspan></text></g>
<g id="Plaats"><rect class="c" x="2567" y="334" width="189" height="64"/><text class="n" x="2661.5" y="352">OSLO-Generiek::Plaats</text><path class="sp" d="M2567,359 H2756"/>
<text class="a" y="373"><tspan x="2573">+</tspan><tspan x="2587">geometrie: Geometrie [0..1]</tspan></text>
<text class="a" y="385"><tspan x="2573">+</tspan><tspan x="2587">plaatsnaam: GeografischeNaam [0..1]</tspan></text></g>
<g id="Prijsplan"><rect class="c" x="2585" y="454" width="149" height="64"/><text class="n" x="2659.5" y="473">OSLO-Mobiliteit::Prijsplan</text><path class="sp" d="M2585,480 H2734"/>
<text class="a" y="492"><tspan x="2591">+</tspan><tspan x="2605">beschrijving: TaalString [0..1]</tspan></text>
<text class="a" y="505"><tspan x="2591">+</tspan><tspan x="2605">naam: TaalString</tspan></text></g>
<g id="Licentie"><rect class="c" x="2566" y="573" width="198" height="64"/><text class="n" x="2665" y="591">OSLO-Mobiliteit::Licentie</text><path class="sp" d="M2566,598 H2764"/>
<text class="a" y="611"><tspan x="2572">+</tspan><tspan x="2586">periode: Periode</tspan></text>
<text class="a" y="623"><tspan x="2572">+</tspan><tspan x="2586">toepassingsgebied: Plaats [1..*]</tspan></text>
<text class="a" y="635"><tspan x="2572">+</tspan><tspan x="2586">vervoersautoriteit: PubliekeOrganisatie</tspan></text></g>
<g id="Vervoerregio"><rect class="c" x="2564" y="687" width="194" height="64"/><text class="st" x="2754" y="699">Plaats</text><text class="n" x="2661" y="714">Vervoerregio</text><path class="sp" d="M2564,721 H2758"/>
<text class="a" y="735"><tspan x="2570">+</tspan><tspan x="2584">^geometrie: Geometrie [0..1]</tspan></text>
<text class="a" y="746"><tspan x="2570">+</tspan><tspan x="2584">^plaatsnaam: GeografischeNaam [0..1]</tspan></text></g>
<g id="Transportnetwerk"><rect class="c" x="2560" y="816" width="198" height="72"/><text class="st" x="2754" y="827">Netwerk</text><text class="n" x="2659" y="843">INSPIRE-Transportnetwerk::</text><text class="n" x="2659" y="854">Transportnetwerk</text><path class="sp" d="M2560,861 H2758"/>
<text class="a" y="875"><tspan x="2566">+</tspan><tspan x="2580">^geografischeNaam: GeografischeNaam</tspan></text>
<text class="a" y="886"><tspan x="2566">+</tspan><tspan x="2580">transporttype: Transporttype</tspan></text></g>
<g id="PubliekeOrganisatie"><rect class="c" x="2585" y="947" width="148" height="63"/><text class="n" x="2659" y="965">OSLO-Organisatie::</text><text class="n" x="2659" y="976">PubliekeOrganisatie</text><path class="sp" d="M2585,984 H2733"/>
<text class="a" y="996"><tspan x="2591">+</tspan><tspan x="2605">werkingsgebied: Plaats [0..*]</tspan></text></g>
<g id="Agent"><rect class="c" x="2610" y="1078" width="82" height="63"/><text class="ni" x="2651" y="1096">OSLO-Generiek::</text><text class="ni" x="2651" y="1108">Agent</text></g>
<g id="FormeelKader"><rect class="c" x="2578" y="1218" width="161" height="71"/><text class="n" x="2658.5" y="1237">OSLO-Generiek::FormeelKader</text><path class="sp" d="M2578,1244 H2739"/>
<text class="a" y="1257"><tspan x="2584">+</tspan><tspan x="2598">beschrijving: TaalString [0..1]</tspan></text>
<text class="a" y="1269"><tspan x="2584">+</tspan><tspan x="2598">naam: TaalString</tspan></text>
<text class="a" y="1280"><tspan x="2584">+</tspan><tspan x="2598">toepassingsgebied: Plaats [0..*]</tspan></text></g>
<g id="Routeplanner"><rect class="c" x="2610" y="1384" width="82" height="64"/><text class="n" x="2651" y="1402">OSLO-Mobiliteit::</text><text class="n" x="2651" y="1414">Routeplanner</text><path class="sp" d="M2610,1421 H2692"/>
<text class="a" y="1434"><tspan x="2616">+</tspan><tspan x="2630">naam: String</tspan></text></g>
<g id="ResourceRapport"><rect class="c" x="2562" y="1496" width="178" height="128"/><text class="n" x="2651" y="1514">ResourceRapport</text><path class="sp" d="M2562,1521 H2740"/>
<text class="a" y="1534"><tspan x="2568">+</tspan><tspan x="2582">aandrijving: Aandrijftype [0..*]</tspan></text>
<text class="a" y="1546"><tspan x="2568">+</tspan><tspan x="2582">locatie: Locatie [0..*]</tspan></text>
<text class="a" y="1558"><tspan x="2568">-</tspan><tspan x="2582">nummer: Integer</tspan></text>
<text class="a" y="1570"><tspan x="2568">-</tspan><tspan x="2582">rapportTijd: DateTime</tspan></text>
<text class="a" y="1583"><tspan x="2568">-</tspan><tspan x="2582">service: Mobiliteitsdienst [0..*]</tspan></text>
<text class="a" y="1595"><tspan x="2568">+</tspan><tspan x="2582">status: Resourcestatus [0..*]</tspan></text>
<text class="a" y="1607"><tspan x="2568">+</tspan><tspan x="2582">type: Resourcetype [0..*]</tspan></text>
<text class="a" y="1619"><tspan x="2568">+</tspan><tspan x="2582">vervoermiddel: Vervoermiddel [0..*]</tspan></text></g>
<g id="Capaciteit"><rect class="d" x="2861" y="84" width="166" height="87"/><text class="sm" x="2944" y="100">«dataType»</text><text class="n" x="2944" y="112">Capaciteit</text><path class="sp" d="M2861,120 H3027"/>
<text class="a" y="131"><tspan x="2867">+</tspan><tspan x="2881">maximum: Integer [0..1]</tspan></text>
<text class="a" y="144"><tspan x="2867">+</tspan><tspan x="2881">totaal: Integer [0..1]</tspan></text>
<text class="a" y="156"><tspan x="2867">+</tspan><tspan x="2881">voertuigtype: Voertuigtype [0..1]</tspan></text>
<text class="fr" x="2944" y="185">(from Mobivoc)</text></g>
<g id="Toegankelijkheid"><rect class="d" x="2836" y="214" width="222" height="78"/><text class="sm" x="2947" y="229">«dataType»</text><text class="n" x="2947" y="240">Toegankelijkheid</text><path class="sp" d="M2836,249 H3058"/>
<text class="a" y="260"><tspan x="2842">+</tspan><tspan x="2856">niveau: Toegankelijkheidsniveau</tspan></text>
<text class="a" y="273"><tspan x="2842">+</tspan><tspan x="2856">onderdeel: Toegankelijkheidsonderdeel [0..1]</tspan></text>
<text class="a" y="285"><tspan x="2842">+</tspan><tspan x="2856">type: Toegankelijkheidstype</tspan></text>
<text class="fr" x="2947" y="307">(from OSLO-Mobiliteit)</text></g>
<g id="Identificator"><rect class="d" x="2882" y="344" width="110" height="44"/><text class="sm" x="2937" y="359">«dataType»</text><text class="n" x="2937" y="371">Identificator</text>
<text class="fr" x="2937" y="404">(from OSLO-Generiek)</text></g>
<g id="Geometrie"><rect class="d" x="2870" y="452" width="146" height="66"/><text class="sm" x="2943" y="467">«dataType»</text><text class="n" x="2943" y="480">Geometrie</text><path class="sp" d="M2870,487 H3016"/>
<text class="a" y="500"><tspan x="2876">+</tspan><tspan x="2890">gml: GetypeerdeString [0..1]</tspan></text>
<text class="a" y="512"><tspan x="2876">+</tspan><tspan x="2890">wkt: GetypeerdeString [0..1]</tspan></text>
<text class="fr" x="2943" y="533">(from OSLO-Generiek)</text></g>
<g id="Punt"><rect class="d" x="3128" y="579" width="82" height="54"/><text class="sm" x="3169" y="594">«dataType»</text><text class="n" x="3169" y="606">Punt</text>
<text class="fr" x="3169" y="648">(from OSLO-</text><text class="fr" x="3169" y="660">Generiek)</text></g>
<g id="Polygoon"><rect class="d" x="3123" y="692" width="83" height="54"/><text class="sm" x="3165" y="707">«dataType»</text><text class="n" x="3165" y="719">Polygoon</text>
<text class="fr" x="3165" y="762">(from OSLO-</text><text class="fr" x="3165" y="773">Generiek)</text></g>
<g id="GeografischeNaam"><rect class="d" x="2888" y="820" width="89" height="65"/><text class="sm" x="2932.5" y="834">«dataType»</text><text class="n" x="2932.5" y="846">GeografischeNaam</text><path class="sp" d="M2888,854 H2977"/>
<text class="a" y="867"><tspan x="2894">+</tspan><tspan x="2908">spelling: String</tspan></text>
<text class="a" y="879"><tspan x="2894">+</tspan><tspan x="2908">taal: Taalcode</tspan></text>
<text class="fr" x="2933" y="899">(from OSLO-Generiek)</text></g>
<g id="Geldbedrag"><rect class="d" x="3123" y="824" width="83" height="56"/><text class="sm" x="3165" y="840">«dataType»</text><text class="n" x="3165" y="852">Geldbedrag</text>
<text class="fr" x="3165" y="894">(from OSLO-</text><text class="fr" x="3165" y="907">Generiek)</text></g>
<g id="Periode"><rect class="d" x="2877" y="946" width="119" height="65"/><text class="sm" x="2936.5" y="961">«dataType»</text><text class="n" x="2936.5" y="973">Periode</text><path class="sp" d="M2877,980 H2996"/>
<text class="a" y="994"><tspan x="2883">+</tspan><tspan x="2897">begin: DateTime</tspan></text>
<text class="a" y="1006"><tspan x="2883">+</tspan><tspan x="2897">einde: DateTime [0..1]</tspan></text>
<text class="fr" x="2936" y="1027">(from OSLO-Generiek)</text></g>
<g id="GerichteLink"><rect class="d" x="3123" y="952" width="88" height="54"/><text class="sm" x="3167" y="967">«dataType»</text><text class="n" x="3167" y="979">GerichteLink</text><path class="sp" d="M3123,986 H3211"/>
<text class="a" y="999"><tspan x="3129">+</tspan><tspan x="3143">richting: Teken</tspan></text>
<text class="fr" x="3167" y="1021">(from INSPIRE-</text><text class="fr" x="3167" y="1033">Netwerk)</text></g>
<g id="ContactInfo"><rect class="d" x="3090" y="1047" width="162" height="125"/><text class="sm" x="3171" y="1061">«dataType»</text><text class="n" x="3171" y="1073">ContactInfo</text><path class="sp" d="M3090,1081 H3252"/>
<text class="a" y="1094"><tspan x="3096">+</tspan><tspan x="3110">aanschrijfvorm: TaalString [0..1]</tspan></text>
<text class="a" y="1106"><tspan x="3096">+</tspan><tspan x="3110">adres: Adresvoorstelling [0..1]</tspan></text>
<text class="a" y="1118"><tspan x="3096">+</tspan><tspan x="3110">contactnaam: String [0..1]</tspan></text>
<text class="a" y="1130"><tspan x="3096">+</tspan><tspan x="3110">email: String [0..1]</tspan></text>
<text class="a" y="1142"><tspan x="3096">+</tspan><tspan x="3110">fax: String [0..1]</tspan></text>
<text class="a" y="1154"><tspan x="3096">+</tspan><tspan x="3110">telefoon: String [0..1]</tspan></text>
<text class="a" y="1166"><tspan x="3096">+</tspan><tspan x="3110">website: URI [0..1]</tspan></text>
<text class="fr" x="3171" y="1187">(from OSLO-Generiek)</text></g>
<g id="Locatie"><rect class="d" x="2902" y="1082" width="82" height="55"/><text class="sm" x="2943" y="1097">«dataType»</text><text class="n" x="2943" y="1110">Locatie</text>
<text class="fr" x="2943" y="1151">(from OSLO-</text><text class="fr" x="2943" y="1163">Generiek)</text></g>
<g id="TaalString"><rect class="d" x="2902" y="1222" width="82" height="65"/><text class="sm" x="2943" y="1237">«dataType»</text><text class="n" x="2943" y="1249">TaalString</text><path class="sp" d="M2902,1256 H2984"/>
<text class="a" y="1269"><tspan x="2908">+</tspan><tspan x="2922">string: String</tspan></text>
<text class="a" y="1280"><tspan x="2908">+</tspan><tspan x="2922">taal: Taalcode</tspan></text>
<text class="fr" x="2943" y="1302">(from OSLO-</text><text class="fr" x="2943" y="1314">Generiek)</text></g>
<g id="OpeningHoursSpecification"><rect class="d" x="3107" y="1228" width="123" height="53"/><text class="sm" x="3168.5" y="1241">«dataType»</text><text class="n" x="3168.5" y="1253">OpeningHoursSpecification</text>
<text class="fr" x="3168" y="1297">(from Schema.org)</text></g>
<g id="Dienstregeling"><rect class="d" x="2903" y="1390" width="82" height="54"/><text class="sm" x="2944" y="1403">«dataType»</text><text class="n" x="2944" y="1415">Dienstregeling</text>
<text class="fr" x="2944" y="1459">(from OSLO-</text><text class="fr" x="2944" y="1471">Mobiliteit)</text></g>
<g id="Beschikbaarheid"><rect class="d" x="3070" y="1371" width="205" height="90"/><text class="sm" x="3172.5" y="1387">«dataType»</text><text class="n" x="3172.5" y="1399">Beschikbaarheid</text><path class="sp" d="M3070,1406 H3275"/>
<text class="a" y="1419"><tspan x="3076">+</tspan><tspan x="3090">dienstregeling: Dienstregeling [0..1]</tspan></text>
<text class="a" y="1431"><tspan x="3076">+</tspan><tspan x="3090">gebruiker: Gebruikerstype [0..1]</tspan></text>
<text class="a" y="1443"><tspan x="3076">+</tspan><tspan x="3090">openingsuren: GetypeerdeString [0..1]</tspan></text>
<text class="a" y="1455"><tspan x="3076">+</tspan><tspan x="3090">periode: OpeningHoursSpecification [0..1]</tspan></text>
<text class="fr" x="3171" y="1477">(from OSLO-Mobiliteit)</text></g>
<g id="Routebeschrijving"><rect class="d" x="2903" y="1532" width="81" height="55"/><text class="sm" x="2943.5" y="1547">«dataType»</text><text class="n" x="2943.5" y="1560">Routebeschrijving</text>
<text class="fr" x="2944" y="1602">(from OSLO-</text><text class="fr" x="2944" y="1614">Mobiliteit)</text></g>
<g id="Adresvoorstelling"><rect class="d" x="3088" y="1505" width="166" height="112"/><text class="sm" x="3171" y="1518">«dataType»</text><text class="n" x="3171" y="1530">Adresvoorstelling</text><path class="sp" d="M3088,1538 H3254"/>
<text class="a" y="1551"><tspan x="3094">+</tspan><tspan x="3108">busnummer: String [0..1]</tspan></text>
<text class="a" y="1563"><tspan x="3094">+</tspan><tspan x="3108">gemeentenaam: TaalString [0..1]</tspan></text>
<text class="a" y="1575"><tspan x="3094">+</tspan><tspan x="3108">huisnummer: String [0..1]</tspan></text>
<text class="a" y="1587"><tspan x="3094">+</tspan><tspan x="3108">land: TaalString [0..1]</tspan></text>
<text class="a" y="1599"><tspan x="3094">+</tspan><tspan x="3108">postcode: String [0..1]</tspan></text>
<text class="a" y="1611"><tspan x="3094">+</tspan><tspan x="3108">straatnaam: TaalString [0..1]</tspan></text>
<text class="fr" x="3171" y="1632">(from OSLO-Adres)</text></g>
<g id="HP-Element"><rect class="c" x="121" y="2728" width="84" height="65"/><text class="n" x="163" y="2747">Hulppakket::</text><text class="n" x="163" y="2759">Element</text></g>
<g id="HP-Netwerkelement"><rect class="c" x="292" y="2728" width="82" height="65"/><text class="ni" x="333" y="2747">Hulppakket::</text><text class="ni" x="333" y="2759">Netwerkelement</text></g>
<g id="HP-Straatmeubilair"><rect class="c" x="442" y="2728" width="82" height="65"/><text class="n" x="483" y="2747">Hulppakket::</text><text class="n" x="483" y="2759">Straatmeubilair</text></g>
<g id="HP-Dienst"><rect class="c" x="592" y="2728" width="82" height="65"/><text class="n" x="633" y="2747">Hulppakket::</text><text class="n" x="633" y="2759">Dienst</text></g>
<g id="HP-Knoop"><rect class="c" x="775" y="2728" width="82" height="65"/><text class="ni" x="816" y="2747">Hulppakket::</text><text class="ni" x="816" y="2759">Knoop</text></g>
<g id="HP-Netwerk"><rect class="c" x="956" y="2728" width="82" height="65"/><text class="n" x="997" y="2747">Hulppakket::</text><text class="n" x="997" y="2759">Netwerk</text></g>
<g id="HP-CivicStructure"><rect class="c" x="1150" y="2728" width="83" height="65"/><text class="n" x="1191.5" y="2747">Hulppakket::</text><text class="n" x="1191.5" y="2759">CivicStructure</text></g>
<g id="HP-Site"><rect class="c" x="1341" y="2728" width="82" height="65"/><text class="n" x="1382" y="2747">Hulppakket::Site</text></g>
<g id="AanvullendeDiensttype"><rect class="e" x="89" y="2941" width="147" height="258"/><text class="sm" x="162.5" y="2956">«enumeration»</text><text class="n" x="162.5" y="2968">AanvullendeDiensttype</text><path class="sp" d="M89,2975 H236"/>
<text class="a" x="107" y="2989">ticketing</text><text class="a" x="107" y="3001">wachtaccomodaties</text><text class="a" x="107" y="3013">vuilnisbak</text><text class="a" x="107" y="3025">pakketautomaat</text><text class="a" x="107" y="3037">bagagelockers</text><text class="a" x="107" y="3049">fietsherstelmogelijkheid</text><text class="a" x="107" y="3061">sanitair</text><text class="a" x="107" y="3073">rodeBrievebus</text><text class="a" x="107" y="3085">AED</text><text class="a" x="107" y="3098">geldautomaat</text><text class="a" x="107" y="3110">wifi</text><text class="a" x="107" y="3122">oplaadpuntToestellen</text><text class="a" x="107" y="3134">drinkwatervoorziening</text><text class="a" x="107" y="3146">vergaderruimte</text><text class="a" x="107" y="3158">voedingsEnKrantenwinkel</text><text class="a" x="107" y="3170">eetEnDrankgelegenheid</text><text class="a" x="107" y="3182">uitleenpuntKinderwagens</text><text class="a" x="107" y="3194">spinOffVanCentrumdiensten</text></g>
<g id="Hoppinpuntstatus"><rect class="e" x="292" y="2941" width="82" height="54"/><text class="sm" x="333" y="2956">«enumeration»</text><text class="n" x="333" y="2968">Hoppinpuntstatus</text><path class="sp" d="M292,2975 H374"/><text class="a" x="312" y="2989">verantwoord</text></g>
<g id="Informatiezuiltype"><rect class="e" x="437" y="2941" width="92" height="73"/><text class="sm" x="483" y="2956">«enumeration»</text><text class="n" x="483" y="2968">Informatiezuiltype</text><path class="sp" d="M437,2975 H529"/><text class="a" x="457" y="2989">analog</text><text class="a" x="457" y="3001">digitaal</text></g>
<g id="Infrastructuurelementtype"><rect class="e" x="567" y="2941" width="120" height="54"/><text class="sm" x="627" y="2956">«enumeration»</text><text class="n" x="627" y="2968">Infrastructuurelementtype</text></g>
<g id="Teken"><rect class="e" x="752" y="2941" width="81" height="77"/><text class="sm" x="792.5" y="2956">«enumeration»</text><text class="n" x="792.5" y="2968">INSPIRE-Netwerk::</text><text class="n" x="792.5" y="2980">Teken</text><path class="sp" d="M752,2987 H833"/><text class="a" x="772" y="3001">plus</text><text class="a" x="772" y="3013">min</text></g>
<g id="Toegankelijkheidstype"><rect class="e" x="939" y="2941" width="114" height="138"/><text class="sm" x="996" y="2956">«enumeration»</text><text class="n" x="996" y="2968">INSPIRE-</text><text class="n" x="996" y="2980">Transportnetwerk::</text><text class="n" x="996" y="2992">Toegankelijkheidstype</text><path class="sp" d="M939,2999 H1053"/>
<text class="a" x="959" y="3013">verbodenToegang</text><text class="a" x="959" y="3025">fysiekOntoegankelijk</text><text class="a" x="959" y="3037">privaat</text><text class="a" x="959" y="3049">publiekToegankelijk</text><text class="a" x="959" y="3061">seizonaal</text><text class="a" x="959" y="3073">tolgeld</text></g>
<g id="Transportknooptype"><rect class="e" x="1146" y="2941" width="93" height="140"/><text class="sm" x="1192.5" y="2956">«enumeration»</text><text class="n" x="1192.5" y="2968">INSPIRE-</text><text class="n" x="1192.5" y="2980">Transportnetwerk::</text><text class="n" x="1192.5" y="2992">Transportknooptype</text><path class="sp" d="M1146,2999 H1239"/>
<text class="a" x="1166" y="3013">treinstation</text><text class="a" x="1166" y="3025">parking</text><text class="a" x="1166" y="3037">deelfietsstation</text><text class="a" x="1166" y="3049">deelstepstation</text><text class="a" x="1166" y="3061">halte</text><text class="a" x="1166" y="3073">etc</text></g>
<g id="Transporttype"><rect class="e" x="1341" y="2941" width="82" height="126"/><text class="sm" x="1382" y="2956">«enumeration»</text><text class="n" x="1382" y="2968">INSPIRE-</text><text class="n" x="1382" y="2980">Transportnetwerk:</text><text class="n" x="1382" y="2992">:Transporttype</text><path class="sp" d="M1341,2999 H1423"/>
<text class="a" x="1361" y="3013">lucht</text><text class="a" x="1361" y="3025">kabel</text><text class="a" x="1361" y="3037">trein</text><text class="a" x="1361" y="3049">weg</text><text class="a" x="1361" y="3061">water</text></g>
<g id="Voertuigtype"><rect class="e" x="1512" y="2942" width="82" height="115"/><text class="sm" x="1553" y="2957">«enumeration»</text><text class="n" x="1553" y="2969">INSPIRE-</text><text class="n" x="1553" y="2981">Transportnetwerk:</text><text class="n" x="1553" y="2993">:Voertuigtype</text><path class="sp" d="M1512,3000 H1594"/>
<text class="a" x="1532" y="3013">fiets</text><text class="a" x="1532" y="3025">auto</text><text class="a" x="1532" y="3037">voetganger</text><text class="a" x="1532" y="3049">bus</text></g>
<g id="Ladertype"><rect class="e" x="1680" y="2939" width="81" height="67"/><text class="sm" x="1720.5" y="2955">«enumeration»</text><text class="n" x="1720.5" y="2966">Ladertype</text><path class="sp" d="M1680,2973 H1761"/><text class="a" x="1700" y="2987">snellader</text><text class="a" x="1700" y="2999">gewoneLader</text></g>
<g id="Merktype"><rect class="e" x="1843" y="2941" width="82" height="63"/><text class="sm" x="1884" y="2956">«enumeration»</text><text class="n" x="1884" y="2968">Merktype</text><path class="sp" d="M1843,2975 H1925"/><text class="a" x="1863" y="2989">mobipunt</text><text class="a" x="1863" y="3001">hoppinpunt</text></g>
<g id="Mobiliteitsdiensttype"><rect class="e" x="2004" y="2941" width="130" height="271"/><text class="sm" x="2069" y="2956">«enumeration»</text><text class="n" x="2069" y="2968">Mobiliteitsdiensttype</text><path class="sp" d="M2004,2975 H2134"/>
<text class="a" x="2024" y="2989">openbaarVervoer</text><text class="a" x="2024" y="3001">privéVervoer</text><text class="a" x="2024" y="3013">deelVervoer</text><text class="a" x="2024" y="3025">collectiefVervoer</text><text class="a" x="2024" y="3037">individueelVervoer</text><text class="a" x="2024" y="3049">lijndienst</text><text class="a" x="2024" y="3061">vraagafhankelijk</text><text class="a" x="2024" y="3073">beslotenVervoer</text><text class="a" x="2024" y="3085">vasteStandplaats</text><text class="a" x="2024" y="3097">freeFloating</text><text class="a" x="2024" y="3109">logies</text><text class="a" x="2024" y="3121">parking</text><text class="a" x="2024" y="3133">routeplanner</text><text class="a" x="2024" y="3145">MaaS</text><text class="a" x="2024" y="3158">verhuur</text><text class="a" x="2024" y="3170">vervoerOpMaatFlex</text><text class="a" x="2024" y="3182">vervoerOpMaatVast</text><text class="a" x="2024" y="3194">vervoerOpMaatSemiflex</text><text class="a" x="2024" y="3206">vervoerOpMaatFlexPlus</text></g>
<g id="Aandrijftype"><rect class="e" x="2201" y="2942" width="148" height="95"/><text class="sm" x="2275" y="2957">«enumeration»</text><text class="n" x="2275" y="2969">OSLO-Mobiliteit::Aandrijftype</text><path class="sp" d="M2201,2977 H2349"/>
<text class="a" x="2221" y="2990">spierkracht</text><text class="a" x="2221" y="3002">elektrischMetOndersteuning</text><text class="a" x="2221" y="3014">elektrisch</text><text class="a" x="2221" y="3026">verbrandingsmotor</text></g>
<g id="Gebruikerstype"><rect class="e" x="2409" y="2942" width="82" height="55"/><text class="sm" x="2450" y="2957">«enumeration»</text><text class="n" x="2450" y="2969">OSLO-Mobiliteit::</text><text class="n" x="2450" y="2981">Gebruikerstype</text></g>
<g id="Toegankelijkheidsniveau"><rect class="e" x="2535" y="2942" width="125" height="90"/><text class="sm" x="2597.5" y="2957">«enumeration»</text><text class="n" x="2597.5" y="2969">OSLO-Mobiliteit::</text><text class="n" x="2597.5" y="2981">Toegankelijkheidsniveau</text><path class="sp" d="M2535,2989 H2660"/>
<text class="a" x="2555" y="3002">ZelfstandigToegankelijk</text><text class="a" x="2555" y="3014">MetHulpToegankelijk</text><text class="a" x="2555" y="3026">NietToegankelijk</text></g>
<g id="Toegankelijkheidsonderdeel"><rect class="e" x="2711" y="2942" width="126" height="138"/><text class="sm" x="2774" y="2957">«enumeration»</text><text class="n" x="2774" y="2969">OSLO-Mobiliteit::</text><text class="n" x="2774" y="2981">Toegankelijkheidsonderdeel</text><path class="sp" d="M2711,2989 H2837"/>
<text class="a" x="2731" y="3002">parkeerplaats</text><text class="a" x="2731" y="3014">inkom</text><text class="a" x="2731" y="3026">toilet</text><text class="a" x="2731" y="3038">lift</text><text class="a" x="2731" y="3050">website</text><text class="a" x="2731" y="3062">infobalie</text><text class="a" x="2731" y="3074">etc</text></g>
<g id="Resourcestatus"><rect class="e" x="2893" y="2943" width="87" height="140"/><text class="sm" x="2936.5" y="2959">«enumeration»</text><text class="n" x="2936.5" y="2971">OSLO-Mobiliteit::</text><text class="n" x="2936.5" y="2983">Resourcestatus</text><path class="sp" d="M2893,2990 H2980"/>
<text class="a" x="2913" y="3004">inactief</text><text class="a" x="2913" y="3016">verwijderd</text><text class="a" x="2913" y="3028">verplaatst</text><text class="a" x="2913" y="3040">beschikbaar</text><text class="a" x="2913" y="3052">onbeschikbaar</text><text class="a" x="2913" y="3064">gereserveerd</text><text class="a" x="2913" y="3076">inGebruik</text></g>
<g id="Resourcetype"><rect class="e" x="98" y="3240" width="82" height="115"/><text class="sm" x="139" y="3256">«enumeration»</text><text class="n" x="139" y="3268">OSLO-Mobiliteit::</text><text class="n" x="139" y="3280">Resourcetype</text><path class="sp" d="M98,3288 H180"/>
<text class="a" x="118" y="3300">zitplaats</text><text class="a" x="118" y="3312">voertuig</text><text class="a" x="118" y="3324">parkeerplaats</text><text class="a" x="118" y="3336">kamer</text><text class="a" x="118" y="3348">laadpaal</text></g>
<g id="Routetype"><rect class="e" x="279" y="3240" width="107" height="127"/><text class="sm" x="332.5" y="3256">«enumeration»</text><text class="n" x="332.5" y="3268">OSLO-Mobiliteit::</text><text class="n" x="332.5" y="3280">Routetype</text><path class="sp" d="M279,3288 H386"/>
<text class="a" x="299" y="3300">snelst</text><text class="a" x="299" y="3312">kortst</text><text class="a" x="299" y="3324">comfortabelst</text><text class="a" x="299" y="3336">goedkoopst</text><text class="a" x="299" y="3348">milieuvriendelijkst</text><text class="a" x="299" y="3360">minstOverstappen</text></g>
<g id="Vervoermiddel"><rect class="e" x="443" y="3240" width="81" height="272"/><text class="sm" x="483.5" y="3256">«enumeration»</text><text class="n" x="483.5" y="3268">OSLO-Mobiliteit::</text><text class="n" x="483.5" y="3280">Vervoermiddel</text><path class="sp" d="M443,3288 H524"/>
<text class="a" x="463" y="3300">auto</text><text class="a" x="463" y="3312">fiets</text><text class="a" x="463" y="3324">teVoet</text><text class="a" x="463" y="3336">vliegtuig</text><text class="a" x="463" y="3348">boot</text><text class="a" x="463" y="3360">trein</text><text class="a" x="463" y="3372">metro</text><text class="a" x="463" y="3384">tram</text><text class="a" x="463" y="3396">bus</text><text class="a" x="463" y="3409">step</text><text class="a" x="463" y="3421">motorfiets</text><text class="a" x="463" y="3433">vrachtwagen</text><text class="a" x="463" y="3445">lift</text><text class="a" x="463" y="3457">roltrap</text><text class="a" x="463" y="3469">roltapijt</text><text class="a" x="463" y="3481">pedelec</text><text class="a" x="463" y="3493">scooter</text><text class="a" x="463" y="3505">skateboard</text></g>
<g id="Plaatstype"><rect class="e" x="572" y="3240" width="110" height="91"/><text class="sm" x="627" y="3256">«enumeration»</text><text class="n" x="627" y="3268">OSLO-</text><text class="n" x="627" y="3280">TimetablesAndPlanning::</text><text class="n" x="627" y="3292">Plaatstype</text><path class="sp" d="M572,3299 H682"/>
<text class="a" x="592" y="3312">monomodal</text><text class="a" x="592" y="3324">general</text></g>
<g id="Stopplaatstype"><rect class="e" x="730" y="3240" width="125" height="236"/><text class="sm" x="792.5" y="3256">«enumeration»</text><text class="n" x="792.5" y="3268">OSLO-</text><text class="n" x="792.5" y="3280">TimetablesAndPlanning::</text><text class="n" x="792.5" y="3292">Stopplaatstype</text><path class="sp" d="M730,3299 H855"/>
<text class="a" x="750" y="3312">onstreetBus</text><text class="a" x="750" y="3324">onstreetTram</text><text class="a" x="750" y="3336">airport</text><text class="a" x="750" y="3348">railStation</text><text class="a" x="750" y="3360">busStation</text><text class="a" x="750" y="3372">metroStation</text><text class="a" x="750" y="3384">coachStation</text><text class="a" x="750" y="3397">tramStation</text><text class="a" x="750" y="3409">harbourPort</text><text class="a" x="750" y="3421">ferryPort</text><text class="a" x="750" y="3433">ferryStop</text><text class="a" x="750" y="3445">liftStation</text><text class="a" x="750" y="3457">vehicleRailInterchange</text><text class="a" x="750" y="3469">other</text></g>
<g id="Toegangsmodus"><rect class="e" x="939" y="3240" width="111" height="115"/><text class="sm" x="994.5" y="3256">«enumeration»</text><text class="n" x="994.5" y="3268">OSLO-</text><text class="n" x="994.5" y="3280">TimetablesAndPlanning::</text><text class="n" x="994.5" y="3292">Toegangsmodus</text><path class="sp" d="M939,3299 H1050"/>
<text class="a" x="959" y="3312">foot</text><text class="a" x="959" y="3324">bicycle</text><text class="a" x="959" y="3336">car</text><text class="a" x="959" y="3348">etc</text></g>
<g id="Transportmode"><rect class="e" x="1137" y="3240" width="111" height="236"/><text class="sm" x="1192.5" y="3256">«enumeration»</text><text class="n" x="1192.5" y="3268">OSLO-</text><text class="n" x="1192.5" y="3280">TimetablesAndPlanning::</text><text class="n" x="1192.5" y="3292">Transportmode</text><path class="sp" d="M1137,3299 H1248"/>
<text class="a" x="1157" y="3312">air</text><text class="a" x="1157" y="3324">bus</text><text class="a" x="1157" y="3336">trolleybus</text><text class="a" x="1157" y="3348">coach</text><text class="a" x="1157" y="3360">funicular</text><text class="a" x="1157" y="3372">metro</text><text class="a" x="1157" y="3384">tram</text><text class="a" x="1157" y="3397">cableway</text><text class="a" x="1157" y="3409">rail</text><text class="a" x="1157" y="3421">water</text><text class="a" x="1157" y="3433">ferry</text><text class="a" x="1157" y="3445">lift</text><text class="a" x="1157" y="3457">taxi</text><text class="a" x="1157" y="3469">other</text></g>
<g id="ParkeerfaciliteitKenmerktype"><rect class="e" x="1315" y="3241" width="132" height="55"/><text class="sm" x="1381" y="3256">«enumeration»</text><text class="n" x="1381" y="3269">ParkeerfaciliteitKenmerktype</text></g>
<g id="ParkeerplaatsKenmerktype"><rect class="e" x="1492" y="3241" width="120" height="55"/><text class="sm" x="1552" y="3256">«enumeration»</text><text class="n" x="1552" y="3269">ParkeerplaatsKenmerktype</text></g>
<g id="Plugtype"><rect class="e" x="1679" y="3241" width="81" height="55"/><text class="sm" x="1719.5" y="3256">«enumeration»</text><text class="n" x="1719.5" y="3269">Plugtype</text></g>
<g id="VervoersmodusOpKaart"><rect class="e" x="1830" y="3241" width="108" height="55"/><text class="sm" x="1884" y="3256">«enumeration»</text><text class="n" x="1884" y="3269">VervoersmodusOpKaart</text></g>
<g id="Vervoersknooppuntstatus"><rect class="e" x="2011" y="3241" width="115" height="55"/><text class="sm" x="2068.5" y="3256">«enumeration»</text><text class="n" x="2068.5" y="3269">Vervoersknooppuntstatus</text></g>
<g id="Vervoersknooppunttype"><rect class="e" x="2211" y="3241" width="131" height="101"/><text class="sm" x="2276.5" y="3256">«enumeration»</text><text class="n" x="2276.5" y="3269">Vervoersknooppunttype</text><path class="sp" d="M2211,3276 H2342"/>
<text class="a" x="2231" y="3289">interregionaalMobipunt</text><text class="a" x="2231" y="3301">regionaalMobipunt</text><text class="a" x="2231" y="3313">lokaalMobipunt</text><text class="a" x="2231" y="3325">buurtMobipunt</text><text class="a" x="2231" y="3337">buurtMobipuntNabijheid</text></g>
</svg>
